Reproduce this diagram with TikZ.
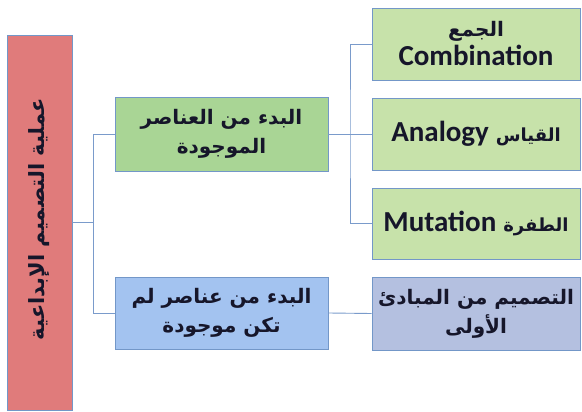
\documentclass[tikz,border=0pt]{standalone}
\usepackage{fontspec}
\TeXXeTstate=1
\newfontfamily\ar[Script=Arabic]{DejaVu Sans}
\newfontfamily\en{Carlito}
\definecolor{redfill}{HTML}{E07B7B}
\definecolor{gmid}{HTML}{A9D595}
\definecolor{gright}{HTML}{C7E2AA}
\definecolor{bmid}{HTML}{A3C3F0}
\definecolor{bright}{HTML}{B4C0E0}
\definecolor{edge}{HTML}{7397C8}
\definecolor{conn}{HTML}{7A9BCB}
\definecolor{ink}{HTML}{16162A}
\tikzset{
  boxst/.style={draw=edge, line width=0.8pt, text=ink, align=center, inner sep=2pt},
  arst/.style={font=\ar\bfseries\fontsize{20}{29}\selectfont},
  connst/.style={draw=conn, line width=0.9pt},
}
\newcommand\latin[1]{{\en\bfseries\fontsize{29}{32}\selectfont #1}}
\newcommand\arsmall[1]{{\fontsize{18}{29}\selectfont #1}}
\begin{document}
\begin{tikzpicture}[x=1pt,y=-1pt]
\useasboundingbox (0,0) rectangle (582,412);
\node[boxst, fill=redfill, minimum width=65pt, minimum height=375pt] (red) at (39.5,222.5) {};
\node[text=ink, rotate=90, font=\ar\bfseries\fontsize{21}{26}\selectfont] (redtxt) at (39.5,219) {\beginR عملية التصميم الإبداعية\endR};
\node[boxst, arst, fill=gmid, minimum width=213pt, minimum height=74pt] (g) at (221.5,134) {\beginR البدء من العناصر\endR\\\beginR الموجودة\endR};
\node[boxst, arst, fill=bmid, minimum width=213pt, minimum height=72pt] (b) at (221.5,313) {\beginR البدء من عناصر لم\endR\\\beginR تكن موجودة\endR};
\node[boxst, arst, fill=gright, minimum width=208pt, minimum height=72pt] (c) at (476,44) {\beginR الجمع\endR\\\latin{Combination}};
\node[boxst, arst, fill=gright, minimum width=208pt, minimum height=72pt] (a) at (476,134) {\beginR\arsmall{القياس} \beginL\latin{Analogy}\endL\endR};
\node[boxst, arst, fill=gright, minimum width=208pt, minimum height=71pt] (m) at (476,223.5) {\beginR\arsmall{الطفرة} \beginL\latin{Mutation}\endL\endR};
\node[boxst, arst, fill=bright, minimum width=208pt, minimum height=73pt] (p) at (476,313.5) {\beginR التصميم من المبادئ\endR\\\beginR الأولى\endR};
\draw[connst] (red.east) -- ++(21,0) coordinate (j1);
\draw[connst] (g.west) -| (j1) |- (b.west);
\draw[connst] (g.east) -- (a.west);
\coordinate (j2) at (350,134);
\draw[connst] (c.west) -| (j2) |- (m.west);
\draw[connst] (b.east) -- (p.west);
\end{tikzpicture}
\end{document}
